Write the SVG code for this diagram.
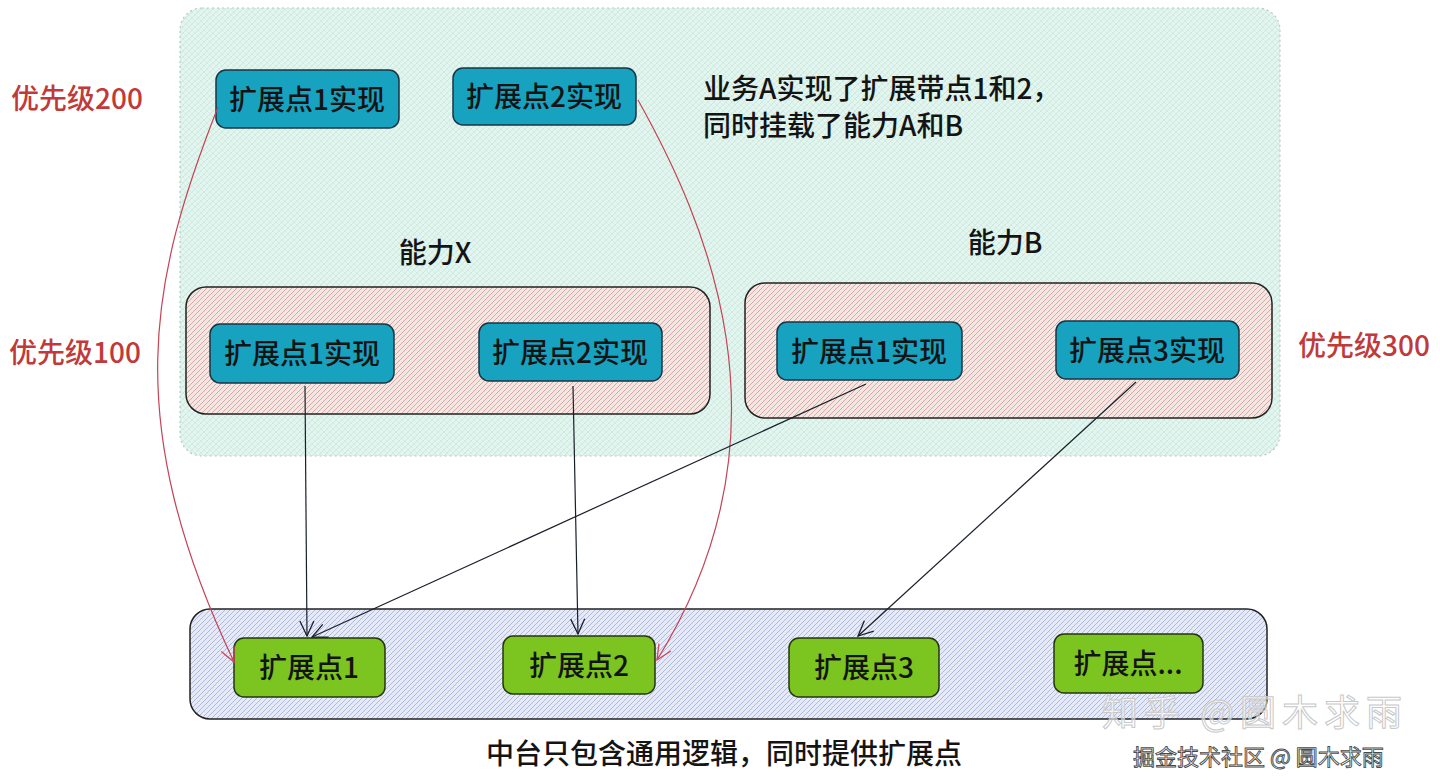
<svg xmlns="http://www.w3.org/2000/svg" width="1440" height="782" viewBox="0 0 1440 782">
<defs>
<pattern id="pGreen" width="6" height="6" patternUnits="userSpaceOnUse">
<rect width="6" height="6" fill="#e2f5ee"/>
<path d="M0 6 L6 0 M-1 1 L1 -1 M5 7 L7 5" stroke="#c3e6da" stroke-width="0.8"/>
<path d="M0 0 L6 6" stroke="#cdeae0" stroke-width="0.6"/>
</pattern>
<pattern id="pRed" width="5" height="5" patternUnits="userSpaceOnUse">
<rect width="5" height="5" fill="#f3e6e3"/>
<path d="M0 5 L5 0 M-1 1 L1 -1 M4 6 L6 4" stroke="#d6a19c" stroke-width="0.9"/>
</pattern>
<pattern id="pBlue" width="5" height="5" patternUnits="userSpaceOnUse">
<rect width="5" height="5" fill="#e6e9f6"/>
<path d="M0 5 L5 0 M-1 1 L1 -1 M4 6 L6 4" stroke="#a9b2dc" stroke-width="0.9"/>
</pattern>
<marker id="arrBlack" markerWidth="20" markerHeight="20" refX="0" refY="0" viewBox="-16 -10 20 20" orient="auto" markerUnits="userSpaceOnUse">
<path d="M-15 -7 L0 0 L-15 7" fill="none" stroke="#1a1f2a" stroke-width="1.3"/>
</marker>
<marker id="arrRed" markerWidth="20" markerHeight="20" refX="0" refY="0" viewBox="-16 -10 20 20" orient="auto" markerUnits="userSpaceOnUse">
<path d="M-15 -7 L0 0 L-15 7" fill="none" stroke="#d0455a" stroke-width="1.3"/>
</marker>
</defs>
<style>
text{font-family:"Noto Sans CJK SC","Noto Sans",sans-serif;font-weight:500;}
.lbl{font-size:28px;fill:#141414;text-anchor:middle;dominant-baseline:central;}
.impl{fill:#17a2c0;stroke:#1b3440;stroke-width:1.5;}
.ext{fill:#7cc41f;stroke:#263410;stroke-width:1.5;}
.prio{font-size:28px;fill:#c0393b;}
.txt{font-size:28px;fill:#141414;}
.black{fill:none;stroke:#1a1f2a;stroke-width:1.2;marker-end:url(#arrBlack);}
.red{fill:none;stroke:#c44355;stroke-width:1.2;marker-end:url(#arrRed);}
</style>
<rect width="1440" height="782" fill="#ffffff"/>

<g id="businessA">
<rect x="180" y="8" width="1100" height="448" rx="22" fill="url(#pGreen)" stroke="#b9c8c2" stroke-width="1.2" stroke-dasharray="2 3"/>
<text class="txt" x="703" y="99">业务A实现了扩展带点1和2，</text>
<text class="txt" x="703" y="136">同时挂载了能力A和B</text>
</g>

<g id="abilityX">
<rect x="186" y="287" width="524" height="127" rx="20" fill="url(#pRed)" stroke="#222" stroke-width="1.5"/>
<text class="txt" x="435" y="251" text-anchor="middle" dominant-baseline="central">能力X</text>
</g>

<g id="abilityB">
<rect x="745" y="283" width="527" height="135" rx="20" fill="url(#pRed)" stroke="#222" stroke-width="1.5"/>
<text class="txt" x="1005" y="241" text-anchor="middle" dominant-baseline="central">能力B</text>
</g>

<g id="platform">
<rect x="190" y="609" width="1077" height="110" rx="20" fill="url(#pBlue)" stroke="#222" stroke-width="1.5"/>
<text class="txt" x="724" y="752" text-anchor="middle" dominant-baseline="central">中台只包含通用逻辑，同时提供扩展点</text>
</g>

<g id="prio200"><text class="prio" x="11" y="97" dominant-baseline="central">优先级200</text></g>
<g id="prio100"><text class="prio" x="9" y="351" dominant-baseline="central">优先级100</text></g>
<g id="prio300"><text class="prio" x="1298" y="344" dominant-baseline="central">优先级300</text></g>

<g id="a-impl1">
<rect class="impl" x="216" y="70" width="183" height="58" rx="10"/>
<text class="lbl" x="307" y="98">扩展点1实现</text>
</g>
<g id="a-impl2">
<rect class="impl" x="453" y="68" width="183" height="57" rx="10"/>
<text class="lbl" x="544" y="95">扩展点2实现</text>
</g>
<g id="x-impl1">
<rect class="impl" x="210" y="324" width="184" height="59" rx="10"/>
<text class="lbl" x="302" y="352">扩展点1实现</text>
</g>
<g id="x-impl2">
<rect class="impl" x="479" y="323" width="183" height="58" rx="10"/>
<text class="lbl" x="570" y="351">扩展点2实现</text>
</g>
<g id="b-impl1">
<rect class="impl" x="777" y="322" width="185" height="58" rx="10"/>
<text class="lbl" x="869" y="350">扩展点1实现</text>
</g>
<g id="b-impl3">
<rect class="impl" x="1056" y="321" width="183" height="58" rx="10"/>
<text class="lbl" x="1147" y="349">扩展点3实现</text>
</g>

<g id="ext1">
<rect class="ext" x="234" y="638" width="151" height="59" rx="10"/>
<text class="lbl" x="309" y="666">扩展点1</text>
</g>
<g id="ext2">
<rect class="ext" x="503" y="636" width="152" height="58" rx="10"/>
<text class="lbl" x="579" y="664">扩展点2</text>
</g>
<g id="ext3">
<rect class="ext" x="789" y="638" width="150" height="59" rx="10"/>
<text class="lbl" x="864" y="666">扩展点3</text>
</g>
<g id="extMore">
<rect class="ext" x="1054" y="634" width="149" height="59" rx="10"/>
<text class="lbl" x="1128" y="662">扩展点...</text>
</g>

<g id="connectors">
<path class="red" d="M218 107 C150 280 120 420 234 662"/>
<path class="red" d="M638 100 C705 220 800 430 657 660"/>
<path class="black" d="M305 386 L307 636"/>
<path class="black" d="M573 386 L578 634"/>
<path class="black" d="M866 384 L312 637"/>
<path class="black" d="M1136 382 L858 636"/>
</g>

<g id="watermark">
<text x="1102" y="726" style="font-size:36px;font-weight:400;letter-spacing:6px;fill:#ffffff;fill-opacity:0.5;stroke:#c8c8c8;stroke-width:1">知乎 @圆木求雨</text>
<text x="1133" y="765" style="font-size:22px;font-weight:400;fill:#ffffff;stroke:#4a4a4a;stroke-width:0.9">掘金技术社区 @ 圆木求雨</text>
</g>
</svg>
